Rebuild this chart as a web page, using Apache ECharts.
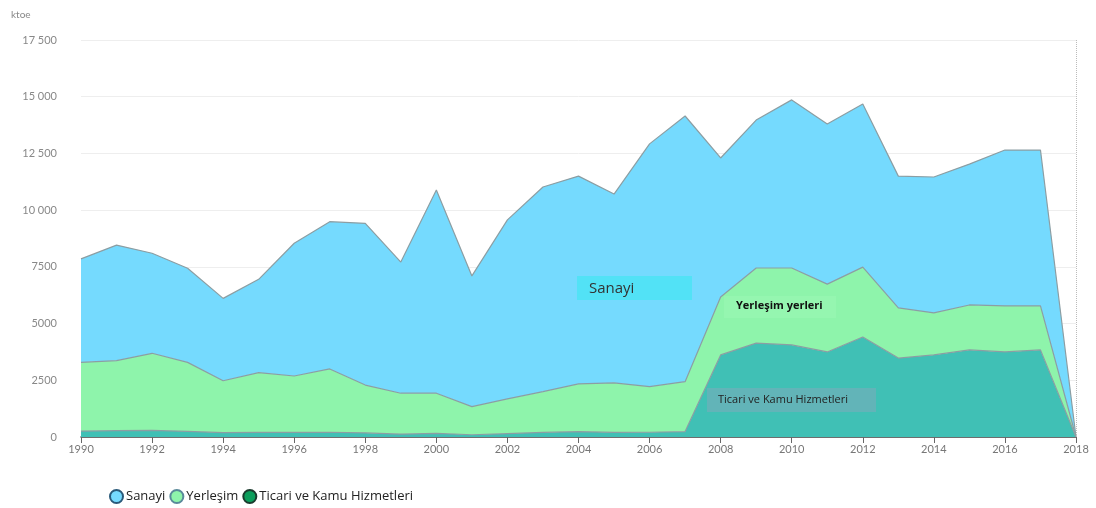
<!DOCTYPE html>
<html>
<head>
<meta charset="utf-8">
<script src="https://cdn.jsdelivr.net/npm/echarts@6/dist/echarts.min.js"></script>
<style>
  html, body { margin: 0; padding: 0; background: #fff; }
  #main { width: 1096px; height: 508px; }
</style>
</head>
<body>
<div id="main"></div>
<script>
// yıllar ve seriler (ktoe)
var years = ['1990','1991','1992','1993','1994','1995','1996','1997','1998','1999',
  '2000','2001','2002','2003','2004','2005','2006','2007','2008','2009',
  '2010','2011','2012','2013','2014','2015','2016','2017','2018'];

var sanayi = [4560,5090,4410,4150,3630,4110,5850,6490,7130,5780,
  8960,5760,7890,9020,9160,8320,10700,11710,6130,6520,
  7410,7060,7190,5810,5990,6210,6870,6870,0];

var yerlesim = [3030,3090,3400,3040,2290,2640,2490,2790,2110,1800,
  1770,1240,1530,1800,2100,2190,2010,2200,2550,3310,
  3390,2990,3080,2210,1850,1980,2030,1940,0];

var ticari = [260,280,290,250,190,200,200,210,180,130,
  160,100,150,200,240,200,210,240,3620,4140,
  4060,3750,4410,3480,3620,3840,3750,3840,0];

var myChart = echarts.init(document.getElementById('main'));

var lineStyle = { width: 1.2, color: '#8c9ea3' };

option = {
  animation: false,
  textStyle: { fontFamily: 'Lato' },
  title: {
    text: 'ktoe',
    left: 6, top: 5,
    textStyle: { fontSize: 10, color: '#888', fontWeight: 'normal' }
  },
  legend: {
    left: 104, top: 484,
    icon: 'circle',
    itemWidth: 13, itemHeight: 13, itemGap: 4,
    data: ['Sanayi', 'Yerleşim', 'Ticari ve Kamu Hizmetleri'],
    textStyle: { fontFamily: 'Open Sans', fontSize: 13, color: '#222', padding: [0, 0, 0, -2] }
  },
  grid: { left: 81, right: 20, top: 40, bottom: 71 },
  xAxis: {
    type: 'category',
    boundaryGap: false,
    data: years,
    axisLine: { lineStyle: { color: '#444', width: 1.5 } },
    axisTick: { interval: 1, length: 6, lineStyle: { color: '#666' } },
    axisLabel: { interval: 1, color: '#777', fontSize: 11, margin: 7 },
    splitLine: { show: false }
  },
  yAxis: {
    type: 'value',
    min: 0, max: 17500, interval: 2500,
    axisLine: { show: false },
    axisTick: { show: false },
    axisLabel: {
      color: '#888', fontSize: 11, margin: 24,
      formatter: function (v) {
        return v >= 10000 ? String(v).replace(/(\d{2})(\d{3})$/, '$1 $2') : String(v);
      }
    },
    splitLine: { lineStyle: { color: '#eeeeee' } }
  },
  series: [
    {
      name: 'Ticari ve Kamu Hizmetleri',
      type: 'line', stack: 'toplam',
      symbol: 'none',
      lineStyle: lineStyle,
      itemStyle: { color: '#0c9e5c', borderColor: '#1b3b2e', borderWidth: 1 },
      areaStyle: { color: '#40c0b5', opacity: 1 },
      data: ticari,
      markLine: {
        silent: true, symbol: 'none', label: { show: false },
        lineStyle: { type: 'dotted', color: '#bbb', width: 1 },
        data: [[{ coord: ['2018', 0] }, { coord: ['2018', 17500] }]]
      }
    },
    {
      name: 'Yerleşim',
      type: 'line', stack: 'toplam',
      symbol: 'none',
      lineStyle: lineStyle,
      itemStyle: { color: '#8ef4ab', borderColor: '#5a8a9a', borderWidth: 1 },
      areaStyle: { color: '#8ef4ab', opacity: 1 },
      data: yerlesim
    },
    {
      name: 'Sanayi',
      type: 'line', stack: 'toplam',
      symbol: 'none',
      lineStyle: lineStyle,
      itemStyle: { color: '#75dafe', borderColor: '#2a5a7a', borderWidth: 1 },
      areaStyle: { color: '#75dafe', opacity: 1 },
      data: sanayi
    }
  ],
  graphic: [
    {
      type: 'rect', left: 577, top: 276, z: 100,
      shape: { width: 115, height: 24 },
      style: { fill: '#52e2f6' }
    },
    {
      type: 'text', left: 589, top: 281, z: 101,
      style: { text: 'Sanayi', fill: '#333', font: '15px "Open Sans"' }
    },
    {
      type: 'rect', left: 724, top: 296, z: 100,
      shape: { width: 112, height: 22 },
      style: { fill: '#95f6b0' }
    },
    {
      type: 'text', left: 736, top: 300, z: 101,
      style: { text: 'Yerleşim yerleri', fill: '#111', font: 'bold 11px "Open Sans"' }
    },
    {
      type: 'rect', left: 707, top: 388, z: 100,
      shape: { width: 169, height: 24 },
      style: { fill: '#62b4b8' }
    },
    {
      type: 'text', left: 718, top: 394, z: 101,
      style: { text: 'Ticari ve Kamu Hizmetleri', fill: '#222', font: '11px "Open Sans"' }
    }
  ]
};

myChart.setOption(option);
</script>
</body>
</html>
